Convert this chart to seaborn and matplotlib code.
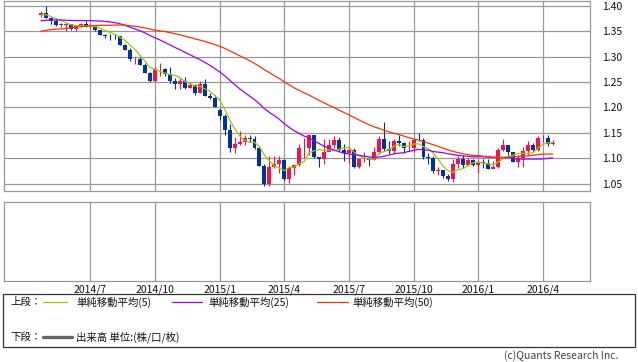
import numpy as np
import pandas as pd
import matplotlib
matplotlib.use("Agg")
import matplotlib.pyplot as plt
from matplotlib.lines import Line2D
import seaborn as sns

# 週足 (2014/4/28 - 2016/4/18)
weeks = pd.date_range("2014-04-28", periods=104, freq="7D")

# 移動平均用の過去の終値 (2013/5 - 2014/4)
prior_close = [1.2990, 1.2835, 1.2935, 1.2995, 1.3220, 1.3345, 1.3120, 1.3010,
               1.2830, 1.3070, 1.3140, 1.3275, 1.3280, 1.3340, 1.3330, 1.3380,
               1.3220, 1.3180, 1.3295, 1.3525, 1.3525, 1.3555, 1.3550, 1.3685,
               1.3800, 1.3485, 1.3365, 1.3500, 1.3555, 1.3590, 1.3705, 1.3740,
               1.3670, 1.3700, 1.3590, 1.3670, 1.3540, 1.3680, 1.3485, 1.3635,
               1.3695, 1.3740, 1.3800, 1.3875, 1.3910, 1.3790, 1.3750, 1.3705,
               1.3885, 1.3815, 1.3830]

open_ = [1.3830, 1.3870, 1.3760, 1.3695, 1.3630, 1.3635, 1.3645, 1.3545, 1.3610, 1.3645,
         1.3595, 1.3605, 1.3525, 1.3430, 1.3415, 1.3410, 1.3400, 1.3240, 1.3130, 1.2950,
         1.2960, 1.2830, 1.2685, 1.2520, 1.2760, 1.2760, 1.2670, 1.2525, 1.2455, 1.2525,
         1.2390, 1.2450, 1.2290, 1.2465, 1.2230, 1.2190, 1.1950, 1.1840, 1.1565, 1.1205,
         1.1290, 1.1315, 1.1390, 1.1380, 1.1195, 1.0845, 1.0495, 1.0825, 1.0890, 1.0970,
         1.0600, 1.0810, 1.0875, 1.1200, 1.1200, 1.1450, 1.1015, 1.0985, 1.1115, 1.1260,
         1.1350, 1.1165, 1.1110, 1.1160, 1.0825, 1.0980, 1.0985, 1.0970, 1.1120, 1.1385,
         1.1180, 1.1150, 1.1335, 1.1300, 1.1195, 1.1210, 1.1360, 1.1350, 1.1015, 1.1005,
         1.0740, 1.0770, 1.0650, 1.0590, 1.0880, 1.0990, 1.0865, 1.0965, 1.0860, 1.0920,
         1.0915, 1.0795, 1.0830, 1.1155, 1.1255, 1.1130, 1.0935, 1.1000, 1.1150, 1.1270,
         1.1170, 1.1390, 1.1395, 1.1285]
high = [1.3907, 1.3993, 1.3775, 1.3735, 1.3670, 1.3670, 1.3650, 1.3615, 1.3675, 1.3700,
        1.3650, 1.3610, 1.3530, 1.3445, 1.3440, 1.3445, 1.3400, 1.3250, 1.3170, 1.2990,
        1.3000, 1.2880, 1.2700, 1.2790, 1.2885, 1.2780, 1.2790, 1.2580, 1.2575, 1.2600,
        1.2500, 1.2455, 1.2530, 1.2570, 1.2285, 1.2245, 1.1990, 1.1870, 1.1680, 1.1425,
        1.1535, 1.1450, 1.1450, 1.1430, 1.1240, 1.0890, 1.1045, 1.1050, 1.1035, 1.0990,
        1.0850, 1.0890, 1.1290, 1.1390, 1.1465, 1.1445, 1.1000, 1.1380, 1.1385, 1.1435,
        1.1410, 1.1280, 1.1215, 1.1200, 1.0990, 1.1130, 1.1000, 1.1215, 1.1440, 1.1715,
        1.1330, 1.1370, 1.1460, 1.1320, 1.1330, 1.1390, 1.1495, 1.1390, 1.1095, 1.1040,
        1.0830, 1.0760, 1.0690, 1.0985, 1.1045, 1.1060, 1.0995, 1.0990, 1.0970, 1.0990,
        1.0990, 1.0950, 1.1200, 1.1375, 1.1260, 1.1110, 1.1055, 1.1220, 1.1340, 1.1295,
        1.1440, 1.1465, 1.1460, 1.1360]
low = [1.3790, 1.3755, 1.3647, 1.3615, 1.3585, 1.3503, 1.3525, 1.3500, 1.3585, 1.3590,
       1.3575, 1.3500, 1.3420, 1.3365, 1.3333, 1.3345, 1.3240, 1.3125, 1.2920, 1.2860,
       1.2830, 1.2680, 1.2500, 1.2500, 1.2625, 1.2615, 1.2480, 1.2355, 1.2360, 1.2360,
       1.2390, 1.2245, 1.2280, 1.2220, 1.2165, 1.2000, 1.1755, 1.1460, 1.1115, 1.1100,
       1.1260, 1.1270, 1.1315, 1.1175, 1.0840, 1.0460, 1.0460, 1.0810, 1.0710, 1.0560,
       1.0520, 1.0660, 1.0840, 1.1000, 1.1070, 1.1000, 1.0820, 1.0890, 1.1135, 1.1200,
       1.1135, 1.0955, 1.0915, 1.0810, 1.0810, 1.0925, 1.0850, 1.0960, 1.1080, 1.1150,
       1.1085, 1.1100, 1.1240, 1.1105, 1.1135, 1.1125, 1.1335, 1.0990, 1.0895, 1.0705,
       1.0675, 1.0620, 1.0555, 1.0525, 1.0800, 1.0805, 1.0850, 1.0850, 1.0710, 1.0805,
       1.0780, 1.0810, 1.0810, 1.1150, 1.1065, 1.0935, 1.0825, 1.0820, 1.1055, 1.1145,
       1.1140, 1.1325, 1.1235, 1.1260]
close = [1.3870, 1.3760, 1.3695, 1.3630, 1.3635, 1.3645, 1.3545, 1.3610, 1.3645, 1.3595,
         1.3605, 1.3525, 1.3430, 1.3415, 1.3410, 1.3400, 1.3240, 1.3130, 1.2950, 1.2960,
         1.2830, 1.2685, 1.2520, 1.2760, 1.2760, 1.2670, 1.2525, 1.2455, 1.2525, 1.2390,
         1.2450, 1.2290, 1.2465, 1.2230, 1.2190, 1.2000, 1.1840, 1.1565, 1.1205, 1.1290,
         1.1315, 1.1390, 1.1380, 1.1195, 1.0845, 1.0495, 1.0825, 1.0890, 1.0970, 1.0600,
         1.0810, 1.0875, 1.1200, 1.1200, 1.1450, 1.1015, 1.0985, 1.1115, 1.1260, 1.1350,
         1.1165, 1.1110, 1.1160, 1.0825, 1.0980, 1.0985, 1.0970, 1.1120, 1.1385, 1.1180,
         1.1150, 1.1335, 1.1300, 1.1195, 1.1210, 1.1360, 1.1350, 1.1015, 1.1005, 1.0740,
         1.0770, 1.0650, 1.0590, 1.0880, 1.0990, 1.0865, 1.0965, 1.0860, 1.0920, 1.0915,
         1.0795, 1.0830, 1.1155, 1.1255, 1.1130, 1.0935, 1.1000, 1.1150, 1.1270, 1.1170,
         1.1390, 1.1395, 1.1285, 1.1310]

tick_months = ["2014-07", "2014-10", "2015-01", "2015-04", "2015-07",
               "2015-10", "2016-01", "2016-04"]
tick_labels = ["2014/7", "2014/10", "2015/1", "2015/4", "2015/7",
               "2015/10", "2016/1", "2016/4"]
price_ticks = [1.05, 1.10, 1.15, 1.20, 1.25, 1.30, 1.35, 1.40]

ma_periods = [5, 25, 50]
ma_colors = ["#99cc00", "#9900ff", "#ff3300"]

UP = "#f5124a"
DOWN = "#003399"
GRID = "#999999"

sns.set_theme(style="white")
plt.rcParams["font.family"] = ["Noto Sans CJK JP", "DejaVu Sans"]

df = pd.DataFrame({"week": weeks, "open": open_, "high": high,
                   "low": low, "close": close})
df["x"] = np.arange(len(df))
all_close = pd.Series(prior_close + close)
for n in ma_periods:
    df[f"ma{n}"] = all_close.rolling(n).mean().iloc[len(prior_close):].values

# 月初の最初の週に縦線
tick_pos = [int(np.argmax(df["week"] >= pd.Timestamp(m + "-01"))) for m in tick_months]

W, H = 638, 362
fig = plt.figure(figsize=(W / 100, H / 100), dpi=100)
ax = fig.add_axes([4 / W, 1 - 190.5 / H, 586 / W, 189.5 / H])
ax2 = fig.add_axes([4 / W, 1 - 281 / H, 586 / W, 79 / H])

xlim = (-7.4, 110.5)
for a in (ax, ax2):
    a.set_xlim(*xlim)
    for s in a.spines.values():
        s.set_color(GRID)
        s.set_linewidth(0.9)
    for p in tick_pos:
        a.axvline(p, color=GRID, lw=0.9, zorder=1)

for y in price_ticks:
    ax.axhline(y, color=GRID, lw=0.9, zorder=1)

# ローソク足
col = np.where(df["close"] >= df["open"], UP, DOWN)
body = (df["close"] - df["open"]).abs().clip(lower=0.0007)
bottom = df[["open", "close"]].min(axis=1)
ax.vlines(df["x"], df["low"], df["high"], colors=col, lw=0.8, zorder=3)
ax.bar(df["x"], body, bottom=bottom, width=0.8, color=col, zorder=4, linewidth=0)

for n, c in zip(ma_periods, ma_colors):
    sns.lineplot(data=df, x="x", y=f"ma{n}", ax=ax, color=c, lw=0.9, zorder=5)

ax.set_ylim(1.0364, 1.4099)
ax.set_yticks(price_ticks)
ax.set_yticklabels([f"{v:.2f}" for v in price_ticks], fontsize=7.5, color="#111111")
ax.yaxis.tick_right()
ax.tick_params(axis="y", length=0, pad=8.5)
ax.set_xticks([])
ax.set_xlabel("")
ax.set_ylabel("")

ax2.set_ylim(0, 1)
ax2.set_yticks([])
ax2.set_xticks(tick_pos)
ax2.set_xticklabels(tick_labels, fontsize=7.5, color="#111111")
ax2.tick_params(axis="x", length=0, pad=2.5)

# 凡例
box = plt.Rectangle((3 / W, 1 - 347 / H), 632 / W, 53 / H, transform=fig.transFigure,
                    fill=False, edgecolor="#333333", lw=0.9)
fig.add_artist(box)
y1 = 1 - 302 / H
y2 = 1 - 337 / H
fs = 7.5
fig.text(10 / W, y1, "上段：", fontsize=fs, va="center", color="#111111")
fig.text(10 / W, y2, "下段：", fontsize=fs, va="center", color="#111111")
legend_items = [(43, 67, 76, "単純移動平均(5)"),
                (172, 202, 208, "単純移動平均(25)"),
                (317, 348, 352, "単純移動平均(50)")]
for (x0, x1, xt, label), c in zip(legend_items, ma_colors):
    fig.add_artist(Line2D([x0 / W, x1 / W], [y1, y1], color=c, lw=0.9,
                          transform=fig.transFigure))
    fig.text(xt / W, y1, label, fontsize=fs, va="center", color="#111111")
fig.add_artist(Line2D([43 / W, 72 / W], [y2, y2], color="#666666", lw=2.4,
                      transform=fig.transFigure))
fig.text(76 / W, y2, "出来高 単位:(株/口/枚)", fontsize=fs, va="center", color="#111111")
fig.text(618 / W, 1 - 356 / H, "(c)Quants Research Inc.", fontsize=7.5,
         ha="right", va="center", color="#444444")

fig.savefig("out.png", dpi=100)
